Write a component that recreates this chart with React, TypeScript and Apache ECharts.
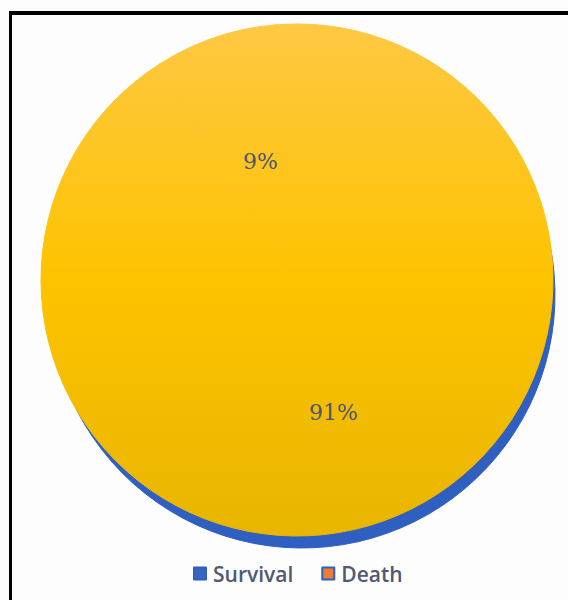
import React, { useEffect, useRef } from "react";
import * as echarts from "echarts";

const categories = ["Survival", "Death"];
const values = [91, 9];
const legendColors = ["#3a63c2", "#ee7d31"];

export default function App() {
  const ref = useRef<HTMLDivElement>(null);
  useEffect(() => {
    if (!ref.current) return;
    const chart = echarts.init(ref.current, null, { renderer: "svg" });
    const mkYellow = () =>
      new echarts.graphic.LinearGradient(
        0, 24, 0, 536,
        [
          { offset: 0, color: "#fec843" },
          { offset: 0.5, color: "#fdc300" },
          { offset: 1, color: "#e8b500" },
        ],
        true
      );
    const data = categories.map((c, i) => ({ name: c, value: values[i] }));
    chart.setOption({
      animation: false,
      backgroundColor: "#fdfdfd",
      graphic: [
        { type: "line", shape: { x1: 9, y1: 13, x2: 568, y2: 13 }, style: { stroke: "#000", lineWidth: 4 }, z: 100 },
        { type: "line", shape: { x1: 10.5, y1: 11, x2: 10.5, y2: 600 }, style: { stroke: "#000", lineWidth: 3 }, z: 100 },
      ],
      legend: {
        left: 188,
        top: 558,
        itemWidth: 12,
        itemHeight: 12,
        itemGap: 28,
        icon: "rect",
        textStyle: { fontFamily: "Open Sans", fontWeight: 600, fontSize: 21, color: "#505a70", padding: [0, 0, 0, 2] },
        data: categories.map((c, i) => ({ name: c, itemStyle: { color: legendColors[i] } })),
      },
      series: [
        {
          type: "pie",
          silent: true,
          center: [302, 295],
          radius: 253,
          startAngle: 90,
          label: { show: false },
          labelLine: { show: false },
          itemStyle: { color: "#2f5fc0", borderColor: "#2f5fc0", borderWidth: 1 },
          data,
          legendHoverLink: false,
          z: 1,
        },
        {
          type: "pie",
          center: [297, 280],
          radius: 256,
          startAngle: 90,
          itemStyle: { color: mkYellow(), borderColor: mkYellow(), borderWidth: 1 },
          label: {
            show: true,
            position: "inside",
            formatter: (p: any) => `${p.value}%`,
            fontFamily: "DejaVu Serif",
            fontSize: 22,
            color: "#4d5670",
          },
          labelLayout: { dy: 7 },
          labelLine: { show: false },
          data,
          z: 2,
        },
      ],
    });
    return () => chart.dispose();
  }, []);
  return (
    <div
      ref={ref}
      style={{ position: "absolute", left: 0, top: 0, width: 568, height: 600 }}
    />
  );
}
